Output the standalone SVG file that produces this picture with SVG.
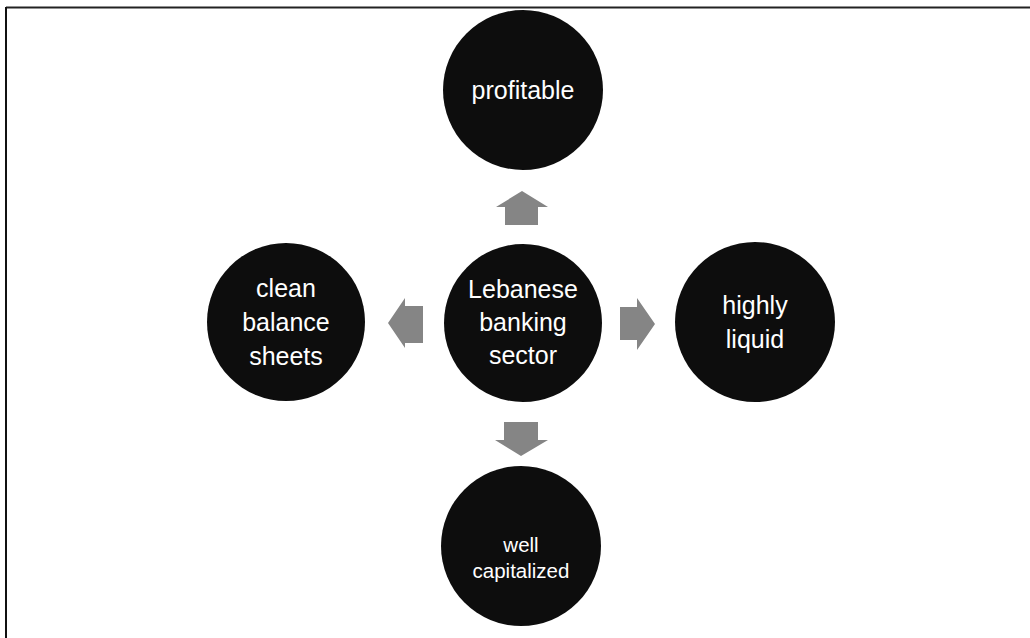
<svg xmlns="http://www.w3.org/2000/svg" width="1030" height="638" viewBox="0 0 1030 638">
<style>
.node circle { fill: #0d0d0d; }
.lbl { fill: #ffffff; font-family: "Liberation Sans", Arial, sans-serif; font-size: 25px; text-anchor: middle; }
.sm { font-size: 20.5px; }
.arr { fill: #858585; }
</style>
<rect width="1030" height="638" fill="#ffffff"/>
<g id="frame">
<line x1="6" y1="7.5" x2="1030" y2="7.5" stroke="#222" stroke-width="2"/>
<line x1="6" y1="7" x2="6" y2="638" stroke="#111" stroke-width="2"/>
</g>
<g id="connectors">
<polygon class="arr" points="522,191 548,207 538,207 538,225 505,225 505,207 496,207"/>
<polygon class="arr" points="655,324 637,298 637,307 620,307 620,340 637,340 637,350"/>
<polygon class="arr" points="521,456 548,440 538,440 538,422 504,422 504,440 495,440"/>
<polygon class="arr" points="388,323 405,298 405,306 423,306 423,343 405,343 405,348"/>
</g>
<g id="node-top" class="node">
<circle cx="523" cy="90" r="80"/>
<text class="lbl" x="523" y="99">profitable</text>
</g>
<g id="node-center" class="node">
<circle cx="523" cy="323" r="79"/>
<text class="lbl" x="523" y="298">Lebanese</text>
<text class="lbl" x="523" y="331">banking</text>
<text class="lbl" x="523" y="364">sector</text>
</g>
<g id="node-left" class="node">
<circle cx="286" cy="322" r="79"/>
<text class="lbl" x="286" y="297">clean</text>
<text class="lbl" x="286" y="331">balance</text>
<text class="lbl" x="286" y="365">sheets</text>
</g>
<g id="node-right" class="node">
<circle cx="755" cy="322" r="80"/>
<text class="lbl" x="755" y="314">highly</text>
<text class="lbl" x="755" y="348">liquid</text>
</g>
<g id="node-bottom" class="node">
<circle cx="521" cy="546" r="80"/>
<text class="lbl sm" x="521" y="552">well</text>
<text class="lbl sm" x="521" y="578">capitalized</text>
</g>
</svg>
